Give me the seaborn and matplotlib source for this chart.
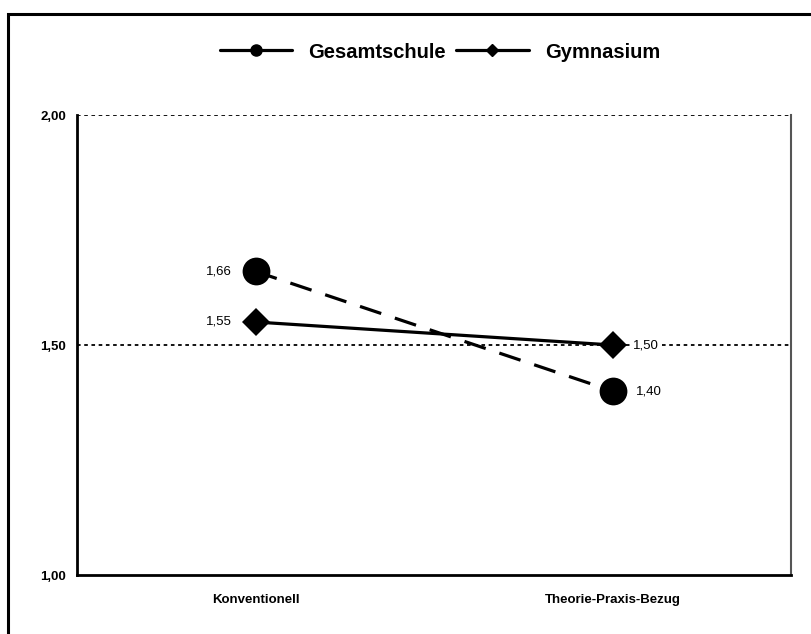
import numpy as np
import pandas as pd
import matplotlib
matplotlib.use("Agg")
import matplotlib.pyplot as plt
import seaborn as sns
from matplotlib.lines import Line2D
from matplotlib.patches import Rectangle

# data
categories = ["Konventionell", "Theorie-Praxis-Bezug"]
gesamtschule = [1.66, 1.40]
gymnasium = [1.55, 1.50]
y_ticks = [1.00, 1.50, 2.00]

sns.set_style("white")
plt.rcParams['font.family'] = ['Liberation Sans', 'DejaVu Sans']
plt.rcParams['text.color'] = 'black'
plt.rcParams['xtick.color'] = 'black'
plt.rcParams['ytick.color'] = 'black'

fig = plt.figure(figsize=(8.11, 6.34), dpi=100)
ax = fig.add_axes([77/811, 1 - 575/634, (791-77)/811, (575-115)/634])

df_g = pd.DataFrame({"cat": categories, "val": gesamtschule})
df_y = pd.DataFrame({"cat": categories, "val": gymnasium})

sns.lineplot(data=df_g, x="cat", y="val", ax=ax, color="black", lw=2.3,
             marker="o", markersize=20, markeredgewidth=0, zorder=3)
ax.lines[-1].set_dashes([7, 4.5])
sns.lineplot(data=df_y, x="cat", y="val", ax=ax, color="black", lw=2.3,
             marker="D", markersize=14.5, markeredgewidth=0, zorder=3)

# value labels
def fmt(v):
    return f"{v:.2f}".replace(".", ",")

ax.annotate(fmt(gesamtschule[0]), (0, gesamtschule[0]), xytext=(-17, 0),
            textcoords="offset points", ha="right", va="center", fontsize=9.5)
ax.annotate(fmt(gesamtschule[1]), (1, gesamtschule[1]), xytext=(17, 0),
            textcoords="offset points", ha="left", va="center", fontsize=9.5)
ax.annotate(fmt(gymnasium[0]), (0, gymnasium[0]), xytext=(-17, 0),
            textcoords="offset points", ha="right", va="center", fontsize=9.5)
ax.annotate(fmt(gymnasium[1]), (1, gymnasium[1]), xytext=(15, 0),
            textcoords="offset points", ha="left", va="center", fontsize=9.5,
            bbox=dict(facecolor="white", edgecolor="none", pad=1))

ax.set_ylim(1.0, 2.0)
ax.set_xlim(-0.5, 1.5)
ax.set_yticks(y_ticks)
ax.set_yticklabels([fmt(t) for t in y_ticks], fontsize=9.5, fontweight="bold")
ax.set_xticks(range(len(categories)))
ax.set_xticklabels(categories, fontsize=9.5, fontweight="bold")
ax.set_xticks([-0.5, 0.5, 1.5], minor=True)
ax.tick_params(axis="x", which="major", length=0, pad=14)
ax.tick_params(axis="x", which="minor", length=5, width=1.5, direction="out", color="black")
ax.tick_params(axis="y", which="major", length=5, width=1.5, direction="out", color="black", pad=3)
ax.set_xlabel("")
ax.set_ylabel("")

for yv in [1.5, 2.0]:
    ax.axhline(yv, color="black", lw=1.3, ls=(0, (2, 2)), zorder=1)

ax.spines["top"].set_visible(False)
ax.spines["right"].set_color("#555555")
ax.spines["right"].set_linewidth(1.5)
ax.spines["left"].set_linewidth(2)
ax.spines["bottom"].set_linewidth(2)
ax.spines["left"].set_color("black")
ax.spines["bottom"].set_color("black")

handles = [
    Line2D([], [], color="black", lw=2.3, marker="o", markersize=8),
    Line2D([], [], color="black", lw=2.3, marker="D", markersize=6.5),
]
fig.legend(handles, ["Gesamtschule", "Gymnasium"], loc="center",
           bbox_to_anchor=(440/811, 1 - 52/634), ncol=2, frameon=False,
           handlelength=3.6, columnspacing=0.5, handletextpad=0.8,
           prop={"size": 14.5, "weight": "bold"})

fig.patches.append(Rectangle((8/811, -0.1), 1.2, (1 - 14/634) + 0.1,
                             transform=fig.transFigure, fill=False,
                             edgecolor="black", lw=2.2, clip_on=False))

fig.savefig("out.png", dpi=100)
